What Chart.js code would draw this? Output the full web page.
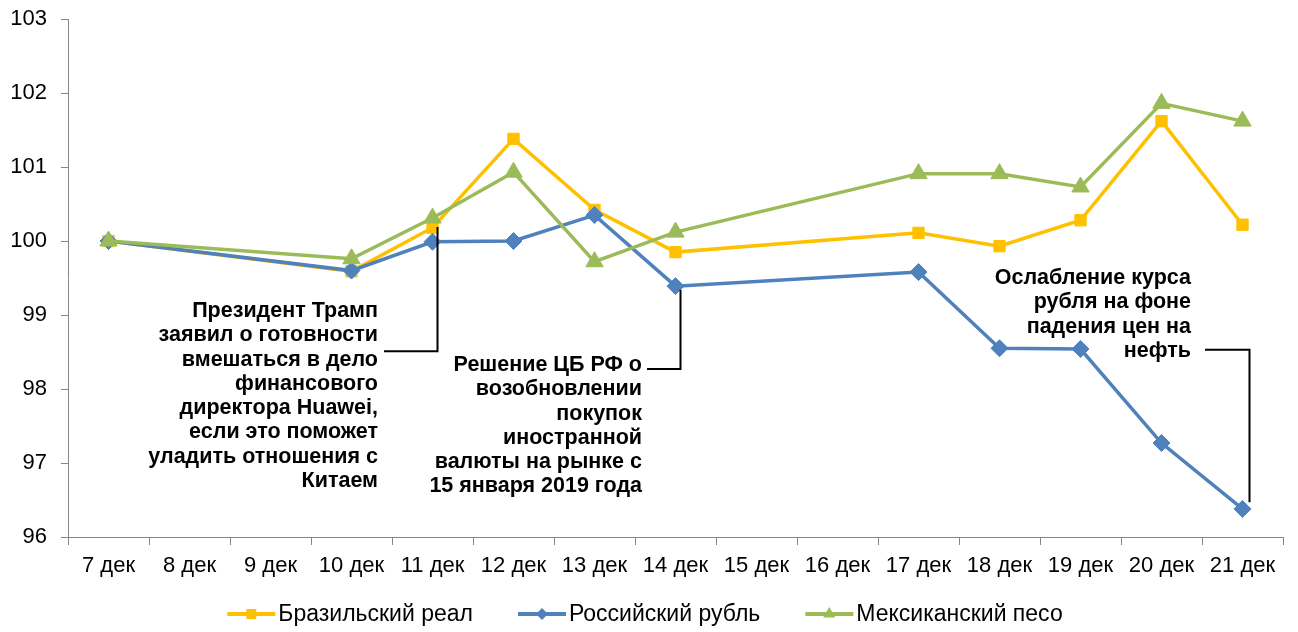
<!DOCTYPE html>
<html>
<head>
<meta charset="utf-8">
<script src="https://cdn.jsdelivr.net/npm/chart.js@4"></script>
<style>
  html, body { margin: 0; padding: 0; background: #fff; }
</style>
</head>
<body>
<canvas id="chart" width="1298" height="632"></canvas>
<script>
// categories (8, 9, 15, 16 dec are weekends, no quotes)
const days = ["7 дек", "8 дек", "9 дек", "10 дек", "11 дек", "12 дек", "13 дек", "14 дек",
  "15 дек", "16 дек", "17 дек", "18 дек", "19 дек", "20 дек", "21 дек"];

const brlValues = [100, null, null, 99.59, 100.18, 101.38, 100.42, 99.85, null, null, 100.11, 99.93, 100.28, 101.62, 100.22];
const rubValues = [100, null, null, 99.60, 99.99, 100.00, 100.35, 99.39, null, null, 99.58, 98.55, 98.54, 97.27, 96.38];
const mxnValues = [100, null, null, 99.76, 100.31, 100.93, 99.72, 100.12, null, null, 100.91, 100.91, 100.73, 101.86, 101.62];

const seriesNames = ["Бразильский реал", "Российский рубль", "Мексиканский песо"];

const yMin = 96, yMax = 103, yStep = 1;

const notes = [
  {
    lines: ["Президент Трамп", "заявил о готовности", "вмешаться в дело", "финансового",
      "директора Huawei,", "если это поможет", "уладить отношения с", "Китаем"],
    right: 378, top: 311, from: 384, idx: 4, dx: 5, joinVal: 98.51, endVal: 100.19
  },
  {
    lines: ["Решение ЦБ РФ о", "возобновлении", "покупок", "иностранной",
      "валюты на рынке с", "15 января 2019 года"],
    right: 642, top: 365, from: 647, idx: 7, dx: 5, joinVal: 98.27, endVal: 99.34
  },
  {
    lines: ["Ослабление курса", "рубля на фоне", "падения цен на", "нефть"],
    right: 1191, top: 278, from: 1205, idx: 14, dx: 7, joinVal: 98.53, endVal: 96.47
  }
];

const FONT = "'Liberation Sans', Arial, sans-serif";
const axisGray = "#868686";

// annotations + legend drawn after the chart
const extras = {
  id: "extras",
  afterDraw(chart) {
    const ctx = chart.ctx;
    const xs = chart.scales.x, ys = chart.scales.y;
    ctx.save();

    // callouts
    ctx.font = "bold 21.5px " + FONT;
    ctx.fillStyle = "#000";
    ctx.textAlign = "right";
    ctx.textBaseline = "middle";
    notes.forEach(n => {
      n.lines.forEach((t, i) => ctx.fillText(t, n.right, n.top + i * 24.3));
      const vx = xs.getPixelForValue(n.idx) + n.dx;
      const jy = ys.getPixelForValue(n.joinVal);
      ctx.strokeStyle = "#000";
      ctx.lineWidth = 2;
      ctx.beginPath();
      ctx.moveTo(n.from, jy);
      ctx.lineTo(vx, jy);
      ctx.lineTo(vx, ys.getPixelForValue(n.endVal));
      ctx.stroke();
    });

    // legend
    ctx.font = "23px " + FONT;
    ctx.textAlign = "left";
    const lineLen = 48, gap = 3, itemGap = 45;
    const widths = chart.data.datasets.map(d => lineLen + gap + ctx.measureText(d.label).width);
    const total = widths.reduce((a, b) => a + b, 0) + itemGap * (widths.length - 1);
    let x = 645 - total / 2;
    const ly = 614;
    chart.data.datasets.forEach((d, i) => {
      ctx.strokeStyle = d.borderColor;
      ctx.lineWidth = 4;
      ctx.beginPath();
      ctx.moveTo(x, ly);
      ctx.lineTo(x + lineLen, ly);
      ctx.stroke();
      ctx.fillStyle = d.borderColor;
      Chart.helpers.drawPoint(ctx, {
        pointStyle: d.pointStyle, radius: d.legendRadius, rotation: 0, borderWidth: 0
      }, x + lineLen / 2, ly);
      ctx.fillStyle = "#000";
      ctx.fillText(d.label, x + lineLen + gap, ly + 1);
      x += widths[i] + itemGap;
    });
    ctx.restore();
  }
};

function series(label, data, color, style, radius, legendRadius, order) {
  return {
    label: label,
    data: data,
    borderColor: color,
    backgroundColor: color,
    borderWidth: 3.5,
    pointStyle: style,
    pointRadius: radius,
    pointHoverRadius: radius,
    pointBorderWidth: 1,
    pointBackgroundColor: color,
    pointBorderColor: color,
    legendRadius: legendRadius,
    tension: 0,
    spanGaps: true,
    order: order
  };
}

new Chart(document.getElementById("chart"), {
  type: "line",
  data: {
    labels: days,
    datasets: [
      series(seriesNames[0], brlValues, "#FFC000", "rect", 8, 7, 3),
      series(seriesNames[1], rubValues, "#4F81BD", "rectRot", 8.5, 6, 2),
      series(seriesNames[2], mxnValues, "#9BBB59", "triangle", 10, 7, 1)
    ]
  },
  options: {
    responsive: false,
    animation: false,
    layout: { padding: { left: 0, right: 15, top: 19, bottom: 0 } },
    plugins: {
      legend: { display: false },
      tooltip: { enabled: false }
    },
    scales: {
      x: {
        offset: true,
        grid: { offset: true, drawOnChartArea: false, color: axisGray, tickLength: 8 },
        border: { color: axisGray, width: 1 },
        ticks: { color: "#000", font: { family: FONT, size: 22 }, padding: 8, maxRotation: 0, autoSkip: false },
        afterFit: s => { s.height = 95; }
      },
      y: {
        min: yMin,
        max: yMax,
        grid: { drawOnChartArea: false, color: axisGray, tickLength: 7 },
        border: { color: axisGray, width: 1 },
        ticks: { stepSize: yStep, color: "#000", font: { family: FONT, size: 22 }, padding: 14 },
        afterFit: s => { s.width = 68; s.paddingTop = 0; s.paddingBottom = 0; }
      }
    }
  },
  plugins: [extras]
});
</script>
</body>
</html>
